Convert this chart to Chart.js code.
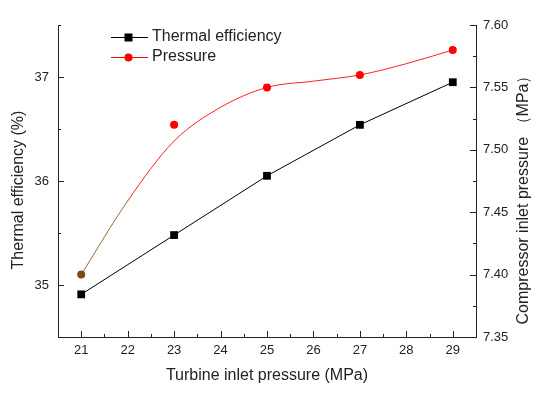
<!DOCTYPE html>
<html>
<head>
<meta charset="utf-8">
<script src="https://cdn.jsdelivr.net/npm/chart.js@4"></script>
<style>
  body { margin: 0; background: #fff; }
  #wrap { width: 550px; height: 395px; }
</style>
</head>
<body>
<div id="wrap"><canvas id="myChart"></canvas></div>
<script>
// Data
const pressures = [21, 23, 25, 27, 29];
const efficiency = [34.91, 35.48, 36.05, 36.54, 36.95];
const compressorPressure = [7.40, 7.52, 7.55, 7.56, 7.58];

// fitted curve through the pressure points
const fitX = [21, 22, 23, 24, 25, 26, 27, 28, 29];
const fitY = [7.400, 7.459, 7.507, 7.534, 7.550, 7.555, 7.560, 7.569, 7.580];

// tick labels
const xTicks = [21, 22, 23, 24, 25, 26, 27, 28, 29];
const yLeftTicks = [35, 36, 37];
const yRightTicks = [7.35, 7.40, 7.45, 7.50, 7.55, 7.60];

const FONT = "Arial, 'Liberation Sans', sans-serif";
const TEXT = '#222';
const AXIS = '#222';

function pairs(xs, ys) {
  return xs.map((x, i) => ({ x: x, y: ys[i] }));
}

// inward major/minor ticks, legend and the two y titles
const decorPlugin = {
  id: 'decor',
  afterDraw(chart) {
    const c = chart.ctx;
    const a = chart.chartArea;
    const sx = chart.scales.x, sl = chart.scales.y, sr = chart.scales.y1;
    c.save();
    c.strokeStyle = AXIS;
    c.lineWidth = 1;

    function tick(x1, y1, x2, y2) {
      c.beginPath();
      c.moveTo(x1, y1);
      c.lineTo(x2, y2);
      c.stroke();
    }
    // x ticks
    xTicks.forEach((v, i) => {
      const px = Math.round(sx.getPixelForValue(v)) + 0.5;
      tick(px, a.bottom, px, a.bottom - 6);
      if (i < xTicks.length - 1) {
        const mx = Math.round(sx.getPixelForValue(v + 0.5)) + 0.5;
        tick(mx, a.bottom, mx, a.bottom - 3);
      }
    });
    // left ticks
    yLeftTicks.forEach(v => {
      const py = Math.round(sl.getPixelForValue(v)) + 0.5;
      tick(a.left, py, a.left + 6, py);
      [v - 0.5, v + 0.5].forEach(m => {
        const my = Math.round(sl.getPixelForValue(m)) + 0.5;
        tick(a.left, my, a.left + 3, my);
      });
    });
    // right ticks
    yRightTicks.forEach((v, i) => {
      const py = Math.round(sr.getPixelForValue(v)) + 0.5;
      tick(a.right, py, a.right - 6, py);
      if (i < yRightTicks.length - 1) {
        const my = Math.round(sr.getPixelForValue(v + 0.025)) + 0.5;
        tick(a.right, my, a.right - 3, my);
      }
    });

    // legend
    const rows = [
      { text: 'Thermal efficiency', color: '#000', style: 'rect', y: 37 },
      { text: 'Pressure', color: '#ff0000', style: 'circle', y: 57 }
    ];
    rows.forEach(r => {
      c.strokeStyle = r.color;
      c.fillStyle = r.color;
      tick(111, r.y + 0.5, 148, r.y + 0.5);
      c.beginPath();
      if (r.style === 'rect') {
        c.rect(124.5, r.y - 3.5, 8, 8);
      } else {
        c.arc(128.5, r.y + 0.5, 4, 0, Math.PI * 2);
      }
      c.fill();
      c.fillStyle = TEXT;
      c.font = '16px ' + FONT;
      c.textBaseline = 'middle';
      c.textAlign = 'left';
      c.fillText(r.text, 152, r.y);
    });

    // y axis titles, both read bottom to top
    c.fillStyle = TEXT;
    c.font = '16px ' + FONT;
    c.textAlign = 'center';
    c.textBaseline = 'middle';
    c.save();
    c.translate(19, 190);
    c.rotate(-Math.PI / 2);
    c.fillText('Thermal efficiency (%)', 0, 0);
    c.restore();
    c.save();
    c.translate(524, 196);
    c.rotate(-Math.PI / 2);
    c.fillText('Compressor inlet pressure （MPa）', 0, 0);
    c.restore();

    c.restore();
  }
};

const ctx = document.getElementById('myChart').getContext('2d');
const myChart = new Chart(ctx, {
  type: 'line',
  data: {
    datasets: [
      {
        label: 'Thermal efficiency',
        data: pairs(pressures, efficiency),
        yAxisID: 'y',
        borderColor: '#000',
        backgroundColor: '#000',
        borderWidth: 1,
        pointStyle: 'rect',
        pointRadius: 5.5,
        pointBorderWidth: 0,
        tension: 0
      },
      {
        label: 'Pressure',
        data: pairs(pressures, compressorPressure),
        yAxisID: 'y1',
        showLine: false,
        pointStyle: 'circle',
        pointRadius: 4,
        pointBorderWidth: 0,
        pointBackgroundColor: ['#7a4a14', '#ff0000', '#ff0000', '#ff0000', '#ff0000'],
        borderColor: '#ff0000'
      },
      {
        label: 'Pressure fit',
        data: pairs(fitX, fitY),
        yAxisID: 'y1',
        borderColor: '#ff2020',
        borderWidth: 1,
        pointRadius: 0,
        cubicInterpolationMode: 'monotone',
        segment: {
          borderColor: s => s.p1.parsed.x <= 22 ? '#9a6a3c' : '#ff2020'
        }
      }
    ]
  },
  options: {
    responsive: true,
    maintainAspectRatio: false,
    animation: false,
    layout: { padding: { top: 25, left: 0, right: 0, bottom: 0 } },
    plugins: {
      legend: { display: false },
      tooltip: { enabled: false }
    },
    scales: {
      x: {
        type: 'linear',
        position: 'bottom',
        min: 20.5,
        max: 29.5,
        afterBuildTicks: s => { s.ticks = xTicks.map(v => ({ value: v })); },
        afterFit: s => { s.height = 58; },
        grid: { display: false, drawTicks: false },
        border: { display: true, color: AXIS, width: 1 },
        ticks: { color: TEXT, font: { family: FONT, size: 13 }, padding: 6, maxRotation: 0 },
        title: {
          display: true,
          text: 'Turbine inlet pressure (MPa)',
          color: TEXT,
          font: { family: FONT, size: 16 },
          padding: { top: 0, bottom: 10 }
        }
      },
      y: {
        position: 'left',
        min: 34.5,
        max: 37.5,
        afterBuildTicks: s => { s.ticks = yLeftTicks.map(v => ({ value: v })); },
        afterFit: s => { s.width = 58; },
        grid: { display: false, drawTicks: false },
        border: { display: true, color: AXIS, width: 1 },
        ticks: { color: TEXT, font: { family: FONT, size: 13 }, padding: 9 }
      },
      y1: {
        position: 'right',
        min: 7.35,
        max: 7.60,
        afterBuildTicks: s => { s.ticks = yRightTicks.map(v => ({ value: v })); },
        afterFit: s => { s.width = 74; },
        grid: { display: false, drawTicks: false },
        border: { display: true, color: AXIS, width: 1 },
        ticks: {
          color: TEXT,
          font: { family: FONT, size: 13 },
          padding: 7,
          callback: v => Number(v).toFixed(2)
        }
      }
    }
  },
  plugins: [decorPlugin]
});
</script>
</body>
</html>
